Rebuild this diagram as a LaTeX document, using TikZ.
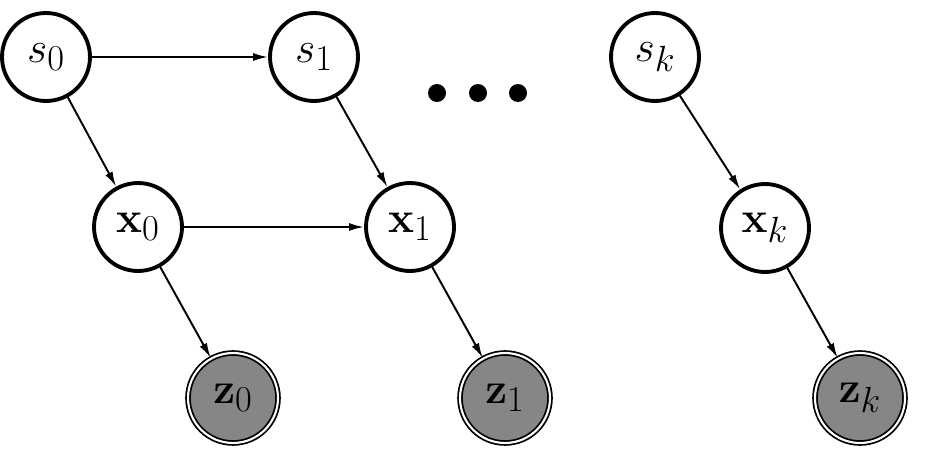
\documentclass[tikz,border=0pt]{standalone}
\usepackage{amsmath,amssymb}
\usepackage{tikz}
\usetikzlibrary{arrows.meta,positioning}

\begin{document}
\begin{tikzpicture}[
  x=0.02cm, y=-0.02cm,
  latent/.style={circle, draw, line width=2.2pt, minimum size=1.76cm, inner sep=0pt,
                 font=\Huge},
  obs/.style={circle, draw, fill=gray!95, line width=1pt, double=white, double distance=1.2pt,
              minimum size=1.8cm, inner sep=0pt, font=\Huge},
  arr/.style={-{Latex[length=0.3cm, width=0.16cm]}, line width=1.1pt},
  dot/.style={circle, fill, minimum size=0.36cm, inner sep=0pt}
]
\useasboundingbox (0,0) rectangle (932,449);

% States
\node[latent] (s0) at (46,57)  {$s_0$};
\node[latent] (s1) at (314,57) {$s_1$};
\node[latent] (sk) at (655,57) {$s_k$};

% Hidden variables
\node[latent] (x0) at (138,227) {$\mathbf{x}_0$};
\node[latent] (x1) at (410,227) {$\mathbf{x}_1$};
\node[latent] (xk) at (765,228) {$\mathbf{x}_k$};

% Observations
\node[obs] (z0) at (233,398) {$\mathbf{z}_0$};
\node[obs] (z1) at (505,398) {$\mathbf{z}_1$};
\node[obs] (zk) at (860,398) {$\mathbf{z}_k$};

% Ellipsis
\node[dot] (d1) at (437,93) {};
\node[dot] (d2) at (478,93) {};
\node[dot] (d3) at (518,93) {};

% Arrows
\draw[arr] (s0) -- (s1);
\draw[arr] (x0) -- (x1);
\draw[arr] (s0) -- (x0);
\draw[arr] (s1) -- (x1);
\draw[arr] (sk) -- (xk);
\draw[arr] (x0) -- (z0);
\draw[arr] (x1) -- (z1);
\draw[arr] (xk) -- (zk);

\end{tikzpicture}
\end{document}
